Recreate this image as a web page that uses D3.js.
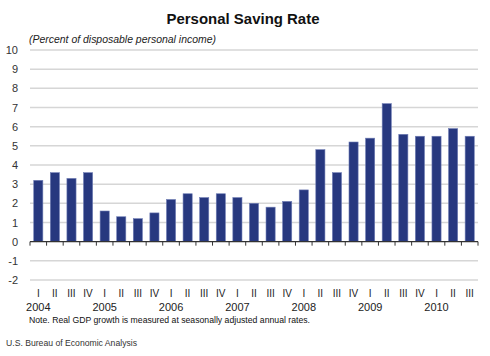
<!DOCTYPE html>
<html><head><meta charset="utf-8">
<script src="https://cdn.jsdelivr.net/npm/d3@7"></script>
<style>html,body{margin:0;padding:0;background:#fff;} svg{display:block;}</style>
</head><body>
<script>
const quarters = ["I","II","III","IV","I","II","III","IV","I","II","III","IV","I","II","III","IV","I","II","III","IV","I","II","III","IV","I","II","III"];
const years = ["2004","2005","2006","2007","2008","2009","2010"];
const values = [3.2,3.6,3.3,3.6,1.6,1.3,1.2,1.5,2.2,2.5,2.3,2.5,2.3,2.0,1.8,2.1,2.7,4.8,3.6,5.2,5.4,7.2,5.6,5.5,5.5,5.9,5.5];
const yTicks = [-2,-1,0,1,2,3,4,5,6,7,8,9,10];

const W = 490, H = 356;
const svg = d3.select("body").append("svg").attr("width", W).attr("height", H);
const font = "'Liberation Sans', Arial, sans-serif";

const idx = values.map((d,i)=>i);
const pi = 0.45;
const x = d3.scaleBand().domain(idx).range([30, 478]).paddingInner(pi).paddingOuter(pi/2);
const y = d3.scaleLinear().domain([-2, 10]).range([280, 50]);

// title
svg.append("text").attr("x", 243).attr("y", 24).attr("text-anchor","middle")
  .attr("font-family", font).attr("font-weight","bold").attr("font-size", 15)
  .attr("fill","#111").attr("textLength",153).attr("lengthAdjust","spacingAndGlyphs")
  .text("Personal Saving Rate");
svg.append("text").attr("x", 29).attr("y", 43)
  .attr("font-family", font).attr("font-style","italic").attr("font-size", 10.5)
  .attr("fill","#222").attr("textLength",187).attr("lengthAdjust","spacingAndGlyphs")
  .text("(Percent of disposable personal income)");

// gridlines
svg.append("g").selectAll("line").data(yTicks.filter(d=>d!==0)).join("line")
  .attr("x1", 30).attr("x2", 478).attr("y1", d=>y(d)).attr("y2", d=>y(d))
  .attr("stroke","#d6d6d6").attr("stroke-width",1.5);

// y labels
svg.append("g").selectAll("text").data(yTicks).join("text")
  .attr("x", 18).attr("y", d=>y(d)+4).attr("text-anchor","end")
  .attr("font-family", font).attr("font-size", 11).attr("fill","#333")
  .text(d=>d);

// bars
svg.append("g").selectAll("rect").data(values).join("rect")
  .attr("x", (d,i)=>x(i)).attr("width", x.bandwidth())
  .attr("y", d=>y(Math.max(0,d))).attr("height", d=>Math.abs(y(d)-y(0)))
  .attr("fill","#27387f").attr("stroke","#6f7db5").attr("stroke-width",0.6);

// zero axis
const step = x.step();
svg.append("line").attr("x1",30).attr("x2",478).attr("y1",y(0)).attr("y2",y(0))
  .attr("stroke","#333").attr("stroke-width",1.2);
const tickPos = idx.map(i=>x(i)-step*pi/2).concat([478]);
svg.append("g").selectAll("line").data(tickPos).join("line")
  .attr("x1",d=>d).attr("x2",d=>d).attr("y1",y(0)).attr("y2",y(0)+4)
  .attr("stroke","#333").attr("stroke-width",1);

// quarter labels
svg.append("g").selectAll("text").data(quarters).join("text")
  .attr("x",(d,i)=>x(i)+x.bandwidth()/2).attr("y",297).attr("text-anchor","middle")
  .attr("font-family", font).attr("font-size", 10).attr("fill","#222")
  .text(d=>d);
// year labels
svg.append("g").selectAll("text").data(years).join("text")
  .attr("x",(d,i)=>x(i*4)+x.bandwidth()/2).attr("y",311).attr("text-anchor","middle")
  .attr("font-family", font).attr("font-size", 11).attr("fill","#222")
  .text(d=>d);

svg.append("text").attr("x",29).attr("y",323)
  .attr("font-family", font).attr("font-size", 9.5).attr("fill","#111")
  .attr("textLength",281).attr("lengthAdjust","spacingAndGlyphs")
  .text("Note.  Real GDP growth is measured at seasonally adjusted annual rates.");
svg.append("text").attr("x",6).attr("y",346)
  .attr("font-family", font).attr("font-size", 9.5).attr("fill","#333")
  .attr("textLength",131).attr("lengthAdjust","spacingAndGlyphs")
  .text("U.S. Bureau of Economic Analysis");
</script>
</body></html>
